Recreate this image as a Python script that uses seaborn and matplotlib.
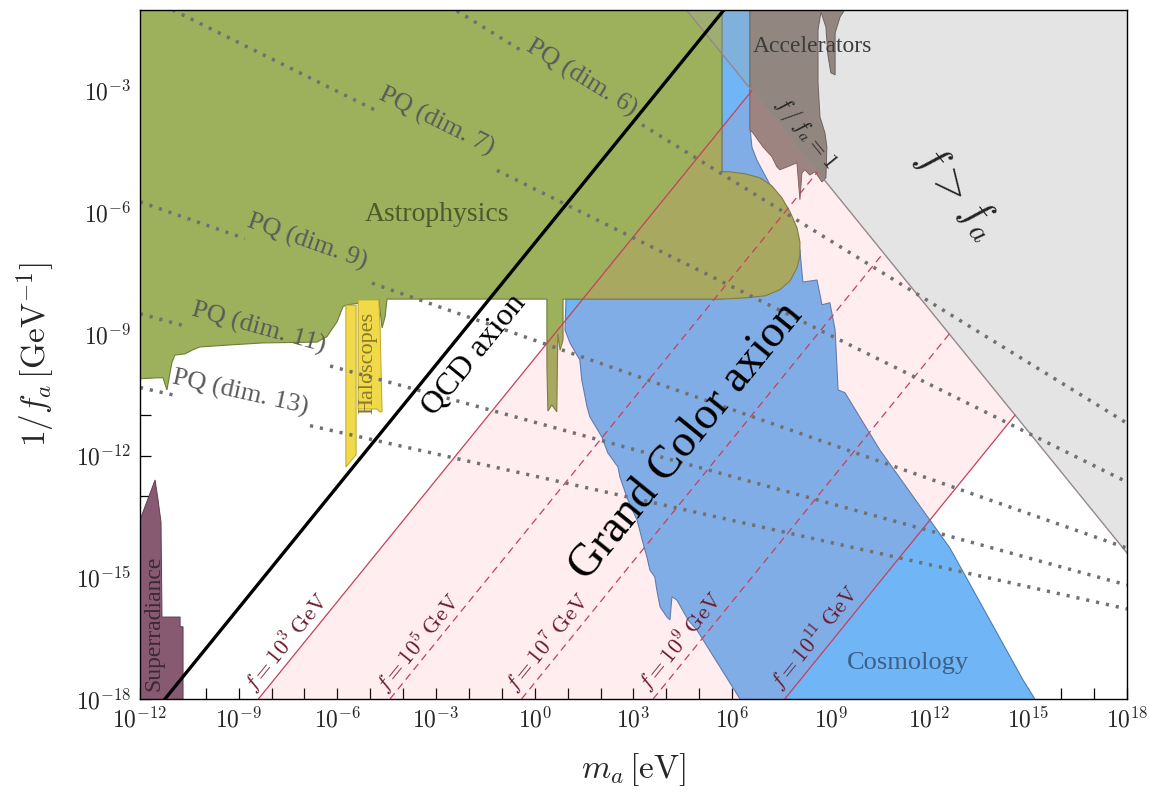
import numpy as np
import matplotlib
matplotlib.use("Agg")
import matplotlib.pyplot as plt
import seaborn as sns
from matplotlib.ticker import FixedLocator, FuncFormatter, NullFormatter

# all values are log10: x = log10(m_a / eV), y = log10(1/f_a / GeV^-1)

# Astrophysics bound
astro_x = [-12.5, 5.69, 5.69, 5.93, 6.39, 6.85, 7.21, 7.51, 7.76, 7.97, 8.06, 8.06, 7.97, 7.76, 7.45, 7.00, 6.39, 5.69,
           0.86, 0.86, 0.77, 0.70, 0.67, 0.52, 0.40, 0.37, 0.37,
           -4.49, -4.55, -4.64, -4.74, -5.74, -5.83, -6.01, -6.32, -6.62, -8.26, -9.26, -10.18, -10.39, -10.63,
           -10.94, -11.03, -11.18, -11.30, -11.48, -12.5]
astro_y = [0.0, 0.0, -5.00, -5.00, -5.05, -5.15, -5.35, -5.64, -5.99, -6.38, -6.73, -7.08, -7.37, -7.69, -7.91, -8.06, -8.11, -8.14,
           -8.14, -9.15, -9.40, -9.00, -10.92, -10.75, -10.90, -9.80, -8.14,
           -8.14, -8.58, -8.85, -8.16, -8.29, -8.33, -8.70, -9.07, -9.20, -9.22, -9.27, -9.32, -9.39, -9.49,
           -9.52, -9.71, -10.38, -10.08, -10.08, -10.13]

# Cosmology bound
cos_x = [5.69, 6.54, 6.54, 6.60, 6.75, 7.15, 7.76, 8.06, 8.15, 8.58, 8.73, 8.97, 9.13, 9.22, 9.43, 10.49, 12.62,
         14.84, 15.66, 6.70, 4.93, 4.66, 4.32, 4.17, 4.11, 4.02, 3.81, 3.71, 3.65, 3.50, 3.41, 3.29, 3.11, 2.83,
         2.59, 2.53, 2.22, 2.04, 1.68, 1.59, 1.43, 1.37, 1.07, 0.92, 0.95, 5.69]
cos_y = [0.0, 0.0, -3.89, -4.39, -4.71, -5.32, -6.06, -6.93, -7.72, -7.67, -8.28, -8.23, -8.90, -10.38, -10.45,
         -11.86, -14.28, -17.53, -18.6, -18.6, -16.30, -16.05, -15.56, -15.48, -16.05, -15.98, -15.73, -15.31,
         -14.99, -14.82, -14.50, -14.15, -13.59, -13.09, -12.53, -12.28, -11.93, -11.54, -11.05, -10.80, -10.13,
         -9.64, -9.22, -8.90, -8.14, -8.14]

# Accelerators
acc_x = [6.54, 6.54, 6.63, 6.94, 7.21, 7.36, 7.45, 7.67, 7.97, 8.06, 8.12, 8.21, 8.36, 8.52, 8.73, 8.85, 8.88,
         8.82, 8.67, 8.61, 8.61, 8.70, 8.85, 8.91, 9.00, 9.13, 9.13, 9.28, 9.43, 9.43]
acc_y = [0.0, -3.97, -4.04, -4.39, -4.63, -4.88, -4.95, -4.88, -4.78, -5.69, -5.03, -4.95, -5.08, -5.00, -5.25,
         -5.15, -4.39, -4.04, -3.65, -2.81, -1.50, -1.06, -1.43, -2.12, -2.56, -2.61, -1.58, -1.18, -1.0, 0.0]

# Haloscopes
halo1_x = [-5.74, -5.43, -5.43, -5.74]
halo1_y = [-8.29, -8.29, -11.98, -12.28]
halo2_x = [-5.37, -4.74, -4.70, -4.64, -4.70, -4.80, -5.37]
halo2_y = [-8.16, -8.16, -8.85, -10.92, -10.92, -10.85, -10.85]

# Superradiance
sr_x = [-12.5, -12.0, -11.54, -11.45, -11.36, -11.33, -10.78, -10.78, -10.69, -10.69, -12.5]
sr_y = [-13.59, -13.59, -12.60, -13.09, -13.64, -15.98, -15.98, -16.22, -16.22, -19.0, -19.0]

# f/f_a = 1 boundary and grey region
ffa_x = [3.6, 18.5]
ffa_y = [0.0, -14.9]

# grand color axion band
pink_x = [-9.0, 6.6, 14.6, 7.0]
pink_y = [-18.6, -3.0, -11.0, -18.6]

# f = 10^n GeV lines
f_exp = [3, 5, 7, 9, 11]
f_x0 = [-8.4, -4.4, -0.4, 3.6, 7.6]
f_x1 = [6.6, 8.6, 10.6, 12.6, 14.6]
f_y1 = [-3.0, -5.0, -7.0, -9.0, -11.0]
f_lab_x = [-7.53, -3.55, 0.40, 4.44, 8.52]
f_lab_y = [-16.62, -16.62, -16.62, -16.60, -16.50]

# QCD axion line
qcd_x = [-11.54, 5.86]
qcd_y = [-18.3, -0.9]

# PQ quality lines
pq_dim = [6, 7, 9, 11, 13]
pq_x0 = [-2.63, -11.28, -12.0, -12.0, -12.0]
pq_y0 = [-0.9, -0.9, -5.74, -8.50, -10.32]
pq_x1 = [18.0, 18.0, 18.0, 18.0, 18.0]
pq_y1 = [-11.2, -12.65, -14.28, -15.19, -15.78]
pq_gap_lo = [-0.36, -4.80, -8.81, -10.54, -11.0]
pq_gap_hi = [3.26, -1.15, -4.95, -6.22, -6.83]
pq_lab_x = [1.43, -3.0, -6.92, -8.41, -8.96]
pq_lab_y = [-2.69, -3.75, -6.73, -8.85, -10.45]

sns.set_style("ticks")
plt.rcParams['font.family'] = ['Liberation Serif', 'DejaVu Serif']
plt.rcParams['mathtext.fontset'] = 'cm'

fig = plt.figure(figsize=(11.49, 7.96), dpi=100)
ax = fig.add_axes([0.1218, 0.1219, 0.859, 0.8656])
ax.set_xscale('log')
ax.set_yscale('log')
ax.set_xlim(1e-12, 1e18)
ax.set_ylim(1e-18, 10**-1.01)


def p(v):
    return 10 ** np.asarray(v, dtype=float)


def region(xs, ys, **kw):
    ax.fill(p(xs), p(ys), **kw)


def line(xs, ys, **kw):
    sns.lineplot(x=p(xs), y=p(ys), ax=ax, estimator=None, sort=False, **kw)


def angle(x0, y0, x1, y1):
    a = ax.transData.transform((10 ** x0, 10 ** y0))
    b = ax.transData.transform((10 ** x1, 10 ** y1))
    return np.degrees(np.arctan2(b[1] - a[1], b[0] - a[0]))


# regions
region(cos_x, cos_y, fc='#70b5f5', ec='#4d7db5', lw=0.8, zorder=1.5)
region(astro_x, astro_y, fc='#9db05c', ec='#6d7d3b', lw=0.8, zorder=2)
region(halo1_x, halo1_y, fc='#f0da4a', ec='#bfa52c', lw=0.7, zorder=2.1)
region(halo2_x, halo2_y, fc='#f0da4a', ec='#bfa52c', lw=0.7, zorder=2.1)
region(sr_x, sr_y, fc='#875a72', ec='#5e3d4f', lw=0.7, zorder=2)
region(ffa_x + [18.5], ffa_y + [0.0], fc='#a8a8a8', ec='none', alpha=0.3, zorder=3)
region(acc_x, acc_y, fc='#918780', ec='#6f625c', lw=0.7, zorder=3.5)
region(pink_x, pink_y, fc='#ff7686', ec='none', alpha=0.125, zorder=4)

line(ffa_x, ffa_y, color='#958888', lw=1.0, zorder=4.5)

# f = const lines
for i, n in enumerate(f_exp):
    style = '-' if n in (3, 11) else (0, (6, 4))
    line([f_x0[i], f_x1[i]], [-18.0, f_y1[i]], color='#c8405a', lw=0.9, linestyle=style, zorder=5)
    ang = angle(f_x0[i], -18.0, f_x1[i], f_y1[i])
    ax.text(p(f_lab_x[i]), p(f_lab_y[i]), r'$f = 10^{%d}\;\mathrm{GeV}$' % n, rotation=ang,
            rotation_mode='anchor', ha='center', va='center', fontsize=16, color='#6b1a2a', zorder=7)

# PQ quality lines with gaps for labels
for i, d in enumerate(pq_dim):
    xs = [pq_x0[i], pq_x1[i]]
    ys = [pq_y0[i], pq_y1[i]]
    for a, b in [(pq_x0[i], pq_gap_lo[i]), (pq_gap_hi[i], pq_x1[i])]:
        seg_x = [a, b]
        seg_y = list(np.interp(seg_x, xs, ys))
        line(seg_x, seg_y, color='#707070', lw=2.5, linestyle=(0, (0.9, 2.0)), zorder=6)
    ang = angle(pq_x0[i], pq_y0[i], pq_x1[i], pq_y1[i])
    ax.text(p(pq_lab_x[i]), p(pq_lab_y[i]), 'PQ (dim. %d)' % d, rotation=ang, rotation_mode='anchor',
            ha='center', va='center', fontsize=19, color='#5a5a5a', zorder=7)

# QCD axion
line(qcd_x, qcd_y, color='black', lw=2.4, zorder=6.5)
qang = angle(qcd_x[0], qcd_y[0], qcd_x[1], qcd_y[1])
ax.text(p(-1.82), p(-9.52), 'QCD axion', rotation=qang, rotation_mode='anchor', ha='center', va='center',
        fontsize=23, color='black', zorder=7)
ax.text(p(4.6), p(-11.64), 'Grand Color axion', rotation=qang, rotation_mode='anchor', ha='center',
        va='center', fontsize=33, color='black', zorder=7)

fang = angle(ffa_x[0], ffa_y[0], ffa_x[1], ffa_y[1])
ax.text(p(12.83), p(-5.5), r'$f > f_a$', rotation=fang, rotation_mode='anchor', ha='center', va='center',
        fontsize=31, color='#222222', zorder=7)
ax.text(p(8.24), p(-4.04), r'$f\,/\,f_a = 1$', rotation=fang, rotation_mode='anchor', ha='center',
        va='center', fontsize=16, color='#222222', zorder=7)

# region labels
ax.text(p(-2.97), p(-6.06), 'Astrophysics', ha='center', va='center', fontsize=20, color='#4b5a2c', zorder=7)
ax.text(p(8.43), p(-1.92), 'Accelerators', ha='center', va='center', fontsize=17, color='#3c3c3c', zorder=7)
ax.text(p(11.34), p(-17.11), 'Cosmology', ha='center', va='center', fontsize=19, color='#3d5f85', zorder=7)
ax.text(p(-5.07), p(-9.71), 'Haloscopes', rotation=90, ha='center', va='center', fontsize=16,
        color='#8a7a2a', zorder=7)
ax.text(p(-11.57), p(-16.13), 'Superradiance', rotation=90, ha='center', va='center', fontsize=17,
        color='#3a2a32', zorder=7)

# axes
ax.xaxis.set_major_locator(FixedLocator(p(np.arange(-12, 19, 3))))
ax.xaxis.set_minor_locator(FixedLocator(p(np.arange(-12, 19, 1))))
ax.yaxis.set_major_locator(FixedLocator(p(np.arange(-18, -1, 3))))
ax.yaxis.set_minor_locator(FixedLocator(p(np.arange(-18, 0, 1))))
fmt = FuncFormatter(lambda v, _: r'$10^{%d}$' % int(round(np.log10(v))))
ax.xaxis.set_major_formatter(fmt)
ax.yaxis.set_major_formatter(fmt)
ax.xaxis.set_minor_formatter(NullFormatter())
ax.yaxis.set_minor_formatter(NullFormatter())
ax.tick_params(which='both', direction='in', length=8, width=0.9, color='black', top=False, right=False,
               labelsize=17, pad=6)
for s in ax.spines.values():
    s.set_linewidth(1.0)
    s.set_color('black')
    s.set_zorder(10)

ax.set_xlabel(r'$m_a\,[\mathrm{eV}]$', fontsize=24, labelpad=13)
ax.set_ylabel(r'$1/f_a\,[\mathrm{GeV}^{-1}]$', fontsize=24, labelpad=14)

fig.savefig('out.png', dpi=100)
